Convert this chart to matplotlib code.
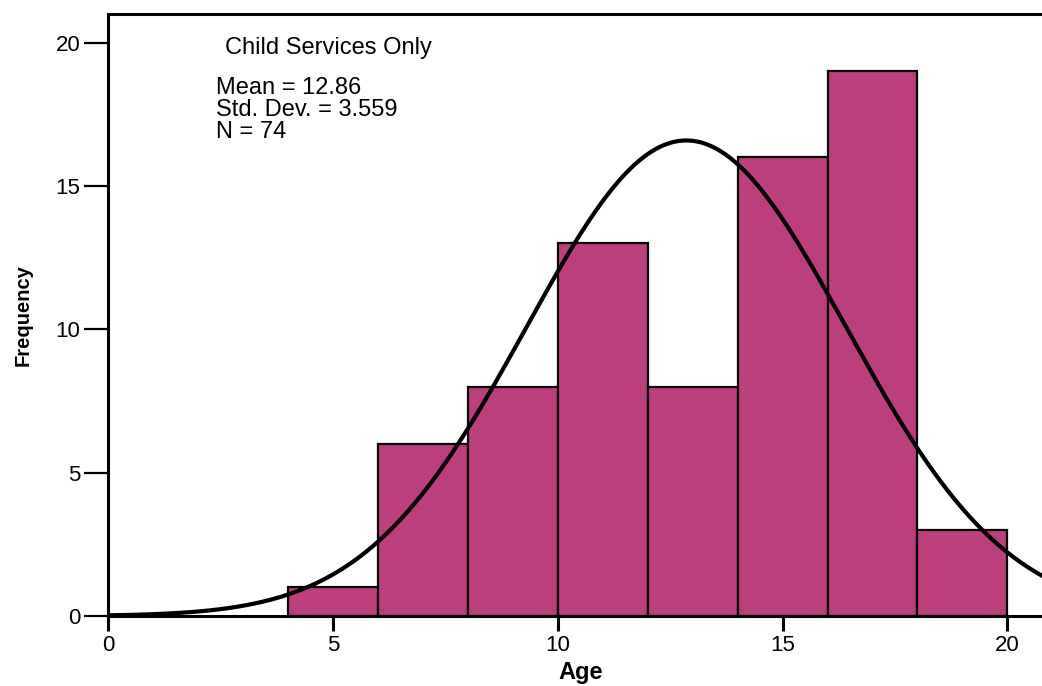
import numpy as np
import matplotlib
matplotlib.use("Agg")
import matplotlib.pyplot as plt

# histogram of age, bin width 2
bin_edges = [4, 6, 8, 10, 12, 14, 16, 18, 20]
counts = [1, 6, 8, 13, 8, 16, 19, 3]

mean = 12.86
std_dev = 3.559
n = 74

stats_lines = ["Mean = 12.86", "Std. Dev. = 3.559", "N = 74"]

plt.rcParams['font.family'] = ['Liberation Sans', 'DejaVu Sans']

fig = plt.figure(figsize=(10.42, 6.86), dpi=100)
ax = fig.add_axes([0.1036, 0.102, 0.9064, 0.8776])

widths = np.diff(bin_edges)
ax.bar(bin_edges[:-1], counts, width=widths, align="edge",
       color="#BB3F7C", edgecolor="black", linewidth=1.6, zorder=2)

# fitted normal curve scaled to counts
xs = np.linspace(0, 21, 400)
bw = widths[0]
ys = n * bw / (std_dev * np.sqrt(2 * np.pi)) * np.exp(-0.5 * ((xs - mean) / std_dev) ** 2)
ax.plot(xs, ys, color="black", linewidth=3, zorder=3, solid_capstyle="butt")

ax.set_xlim(0, 21.0)
ax.set_ylim(0, 21.0)
ax.set_xticks([0, 5, 10, 15, 20])
ax.set_yticks([0, 5, 10, 15, 20])

for side in ["left", "bottom", "top"]:
    ax.spines[side].set_linewidth(2.2)
ax.spines["right"].set_visible(False)

ax.tick_params(axis="x", direction="out", length=10.5, width=2.2, labelsize=16, pad=3)
ax.tick_params(axis="y", direction="out", length=17, width=1.6, labelsize=16, pad=3)

ax.set_xlabel("Age", fontsize=17, fontweight="bold", labelpad=4)
ax.set_ylabel("Frequency", fontsize=14.5, fontweight="bold", labelpad=16)

ax.text(0.124, 0.943, "Child Services Only", transform=ax.transAxes,
        fontsize=17, va="center", ha="left")
for i, line in enumerate(stats_lines):
    ax.text(0.114, 0.877 - i * 0.0365, line, transform=ax.transAxes,
            fontsize=17, va="center", ha="left")

fig.savefig("out.png", dpi=100)
